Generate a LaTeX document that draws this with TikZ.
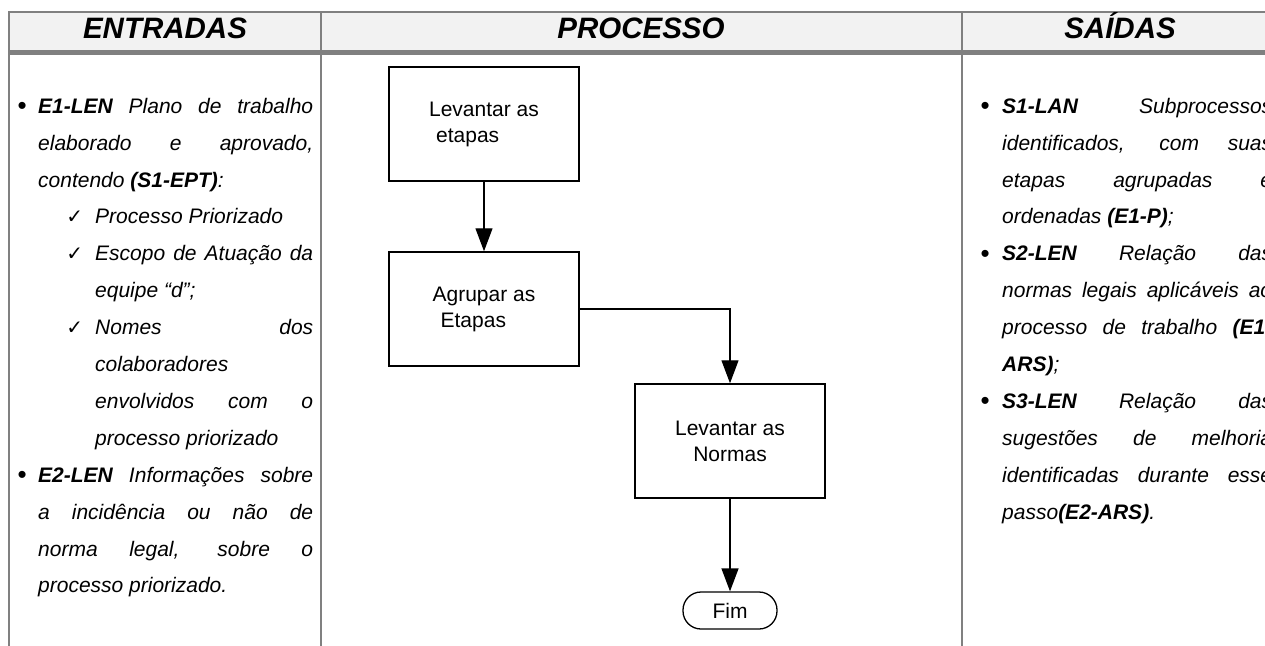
\documentclass[tikz,border=0pt]{standalone}
\usepackage{fontspec}
\setmainfont{Liberation Sans}
\newfontfamily\checkfont{DejaVu Sans}
\usetikzlibrary{arrows.meta}
\definecolor{gridgray}{HTML}{808080}
\definecolor{headgray}{HTML}{F2F2F2}
\newcommand{\bulletmark}{\raisebox{-1.5pt}{\upshape\fontsize{26}{26}\selectfont\textbullet}}
\newcommand{\bulletleft}{\noindent\llap{\bulletmark\hspace{11.5pt}}}
\newcommand{\bulletright}{\noindent\llap{\bulletmark\hspace{12.5pt}}}
\newcommand{\checkitem}{\noindent\llap{{\checkfont\fontsize{20}{20}\selectfont ✓}\hspace{12pt}}}
\begin{document}
\begin{tikzpicture}
[x=1pt,y=-1pt,
  boxdecorate/.style={shape=rectangle,draw,line width=1.5pt,minimum width=190pt,
    minimum height=114pt,inner sep=0pt,font=\fontsize{21}{26}\selectfont},%
  fimdecorate/.style={shape=rectangle,draw,line width=1.3pt,rounded corners=18pt,
    minimum width=94pt,minimum height=37pt,font=\fontsize{21}{26}\selectfont},%
  arrowdecorate/.style={-{Triangle[width=17pt,length=23pt]},line width=1.3pt},%
  titledecorate/.style={anchor=base,inner sep=0pt,
    font=\bfseries\itshape\fontsize{29.5}{32}\selectfont},%
  textdecorate/.style={anchor=north west,inner sep=0pt,align=justify,
    font=\itshape\fontsize{21}{36.9}\selectfont},%
  gridline/.style={gridgray,line width=2pt}]
\useasboundingbox (0,0) rectangle (1265,645);
\clip (0,0) rectangle (1265,645);
%% table frame
\fill[headgray] (9,12) rectangle (1300,51);
\draw[gridline] (9,12) -- (1300,12);
\draw[gridgray,line width=5pt] (8,52.5) -- (1300,52.5);
\foreach \x in {9,321,962} {
  \draw[gridline] (\x,11) -- (\x,660);
}
%% column titles
\foreach \nodename/\x/\title in {tentradas/165/ENTRADAS, tprocesso/641/PROCESSO,
  tsaidas/1120/SAÍDAS} {
  \node (\nodename) at (\x,38) [titledecorate] {\title};
}
%% inputs
\node (entradas) at (38,92) [textdecorate,text width=275pt] {%
  \parindent=0pt\tolerance=10000\hbadness=10000
  \bulletleft\rule{0pt}{21pt}\textbf{E1-LEN} Plano de trabalho\linebreak
  elaborado e aprovado,\linebreak
  contendo \textbf{(S1-EPT)}:\par
  \leftskip=57pt
  \checkitem Processo Priorizado\par
  \checkitem Escopo de Atuação da\linebreak equipe “d”;\par
  \checkitem Nomes dos\linebreak colaboradores\linebreak
  envolvidos com o\linebreak processo priorizado\par
  \leftskip=0pt
  \bulletleft\textbf{E2-LEN} Informações sobre\linebreak
  a incidência ou não de\linebreak
  norma legal, sobre o\linebreak
  processo priorizado.\par};
%% outputs
\node (saidas) at (1002,92) [textdecorate,text width=270pt] {%
  \parindent=0pt\tolerance=10000\hbadness=10000
  \bulletright\rule{0pt}{21pt}\textbf{S1-LAN} Subprocessos\linebreak
  identificados, com suas\linebreak
  etapas agrupadas e\linebreak
  ordenadas \textbf{(E1-P)};\par
  \bulletright\textbf{S2-LEN} Relação das\linebreak
  normas legais aplicáveis ao\linebreak
  processo de trabalho \textbf{(E1-}\linebreak
  \textbf{ARS)};\par
  \bulletright\textbf{S3-LEN} Relação das\linebreak
  sugestões de melhoria\linebreak
  identificadas durante esse\linebreak
  passo\textbf{(E2-ARS)}.\par};
%% process steps
\node (levantar) at (484,124) [boxdecorate,align=left] {Levantar as\\\hspace*{7pt}etapas};
\node (agrupar) at (484,309) [boxdecorate,align=left] {Agrupar as\\\hspace*{8pt}Etapas};
\node (normas) at (730,441) [boxdecorate,align=center] {Levantar as\\Normas};
\node (fim) at (730,610.5) [fimdecorate] {Fim};
%% connectors
\path
\foreach \startnode/\endnode in {levantar/agrupar, normas/fim} {
  (\startnode) edge[arrowdecorate] (\endnode)
};
\draw[arrowdecorate] (agrupar.east) -| (normas.north);
\end{tikzpicture}
\end{document}
